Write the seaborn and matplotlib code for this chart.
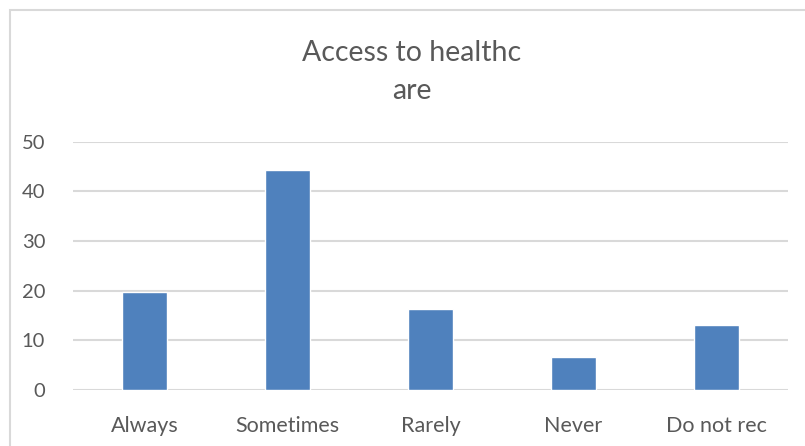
import matplotlib
matplotlib.use("Agg")
import matplotlib.pyplot as plt
import seaborn as sns
import pandas as pd
from matplotlib.patches import Rectangle

categories = ["Always", "Sometimes", "Rarely", "Never", "Do not rec"]
values = [19.6, 44.3, 16.3, 6.5, 13.1]
y_ticks = [0, 10, 20, 30, 40, 50]
title = "Access to healthc\nare"

sns.set_theme(style="white")
plt.rcParams["font.family"] = ["Lato", "DejaVu Sans"]

text_color = "#595959"
grid_color = "#D9D9D9"
bar_color = "#4F81BD"

df = pd.DataFrame({"category": categories, "value": values})

fig = plt.figure(figsize=(8.05, 4.46), dpi=100)
ax = fig.add_axes([73 / 805, 1 - 389.7 / 446, (788 - 73) / 805, (389.7 - 141.7) / 446])

sns.barplot(data=df, x="category", y="value", color=bar_color, width=0.31,
            saturation=1, ax=ax, zorder=3)

ax.set_ylim(0, 50)
ax.set_xlim(-0.5, len(categories) - 0.5)
ax.set_yticks(y_ticks)
ax.set_yticklabels([str(t) for t in y_ticks])
ax.set_xlabel("")
ax.set_ylabel("")

for t in y_ticks:
    ax.axhline(t, color=grid_color, lw=1.5, zorder=1)

for s in ax.spines.values():
    s.set_visible(False)

ax.tick_params(axis="y", length=0, pad=20, labelsize=14.5, labelcolor=text_color)
ax.tick_params(axis="x", length=0, pad=19, labelsize=15.5, labelcolor=text_color)

fig.text(412 / 805, 1 - 72 / 446, title, ha="center", va="center",
         fontsize=20.5, color=text_color, linespacing=1.55)

# chart-area outline
fig.patches.append(Rectangle((10 / 805, -0.05), 1.1, 1 - 10 / 446 + 0.05,
                             transform=fig.transFigure, fill=False,
                             edgecolor=grid_color, lw=1.5))

fig.savefig("out.png", dpi=100)
